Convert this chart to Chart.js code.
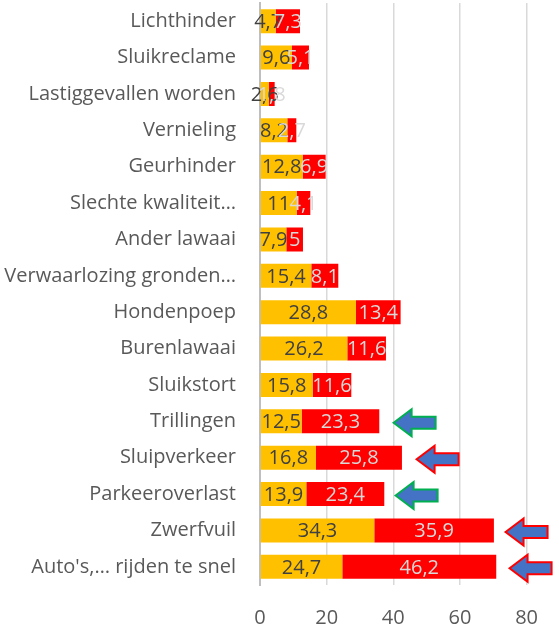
<!DOCTYPE html>
<html>
<head>
<meta charset="utf-8">
<script src="https://cdn.jsdelivr.net/npm/chart.js@4/dist/chart.umd.min.js"></script>
<style>
  html, body { margin: 0; padding: 0; background: #fff; }
  canvas { display: block; }
</style>
</head>
<body>
<canvas id="hinder" width="559" height="628"></canvas>
<script>
// Categories (top to bottom)
const categories = [
	"Lichthinder",
	"Sluikreclame",
	"Lastiggevallen worden",
	"Vernieling",
	"Geurhinder",
	"Slechte kwaliteit…",
	"Ander lawaai",
	"Verwaarlozing gronden…",
	"Hondenpoep",
	"Burenlawaai",
	"Sluikstort",
	"Trillingen",
	"Sluipverkeer",
	"Parkeeroverlast",
	"Zwerfvuil",
	"Auto's,… rijden te snel",
];

// Orange series
const orangeValues = [4.7, 9.6, 2.6, 8.2, 12.8, 11, 7.9, 15.4, 28.8, 26.2, 15.8, 12.5, 16.8, 13.9, 34.3, 24.7];
// Red series
const redValues = [7.3, 5.1, 1.8, 2.7, 6.9, 4.1, 5, 8.1, 13.4, 11.6, 11.6, 23.3, 25.8, 23.4, 35.9, 46.2];

// x axis ticks
const xMin = 0;
const xMax = 80;
const xStep = 20;

// Arrows pointing at some of the bars (tip position in axis units)
const arrowCats = ["Trillingen", "Sluipverkeer", "Parkeeroverlast", "Zwerfvuil", "Auto's,… rijden te snel"];
const arrowTips = [40.1, 47, 40.7, 73.7, 74.9];
const arrowOutlines = ["#00B050", "#FF0000", "#00B050", "#FF0000", "#FF0000"];

const fontFamily = "'Open Sans', Lato, sans-serif";

const fmt = v => String(v).replace(".", ",");

// Draws the value in the middle of each segment
const valueLabels = {
	id: "valueLabels",
	afterDatasetsDraw(chart) {
		const ctx = chart.ctx;
		ctx.save();
		ctx.font = `20px ${fontFamily}`;
		ctx.textAlign = "center";
		ctx.textBaseline = "middle";
		chart.data.datasets.forEach((ds, di) => {
			const meta = chart.getDatasetMeta(di);
			ctx.fillStyle = di === 0 ? "#404040" : "#D9D9D9";
			meta.data.forEach((bar, i) => {
				const cx = (bar.x + bar.base) / 2;
				ctx.fillText(fmt(ds.data[i]), cx, bar.y + 1);
			});
		});
		ctx.restore();
	},
};

// Blue block arrows
const arrows = {
	id: "arrows",
	afterDraw(chart) {
		const ctx = chart.ctx;
		const xs = chart.scales.x;
		const ys = chart.scales.y;
		ctx.save();
		arrowCats.forEach((cat, i) => {
			const tx = xs.getPixelForValue(arrowTips[i]);
			const ty = ys.getPixelForValue(categories.indexOf(cat)) + 1.5;
			const len = 42;
			const headLen = 18;
			const headH = 13.5;
			const shaftH = 6;
			ctx.beginPath();
			ctx.moveTo(tx, ty);
			ctx.lineTo(tx + headLen, ty - headH);
			ctx.lineTo(tx + headLen, ty - shaftH);
			ctx.lineTo(tx + len, ty - shaftH);
			ctx.lineTo(tx + len, ty + shaftH);
			ctx.lineTo(tx + headLen, ty + shaftH);
			ctx.lineTo(tx + headLen, ty + headH);
			ctx.closePath();
			ctx.fillStyle = "#4472C4";
			ctx.fill();
			ctx.lineWidth = 2;
			ctx.strokeStyle = arrowOutlines[i];
			ctx.stroke();
		});
		ctx.restore();
	},
};

new Chart(document.getElementById("hinder"), {
	type: "bar",
	data: {
		labels: categories,
		datasets: [
			{
				label: "oranje",
				data: orangeValues,
				backgroundColor: "#FFC000",
				barPercentage: 0.66,
				categoryPercentage: 1,
			},
			{
				label: "rood",
				data: redValues,
				backgroundColor: "#FF0000",
				barPercentage: 0.66,
				categoryPercentage: 1,
			},
		],
	},
	options: {
		indexAxis: "y",
		responsive: false,
		animation: false,
		layout: {
			padding: { top: 3, right: 30, bottom: 0, left: 0 },
		},
		plugins: {
			legend: { display: false },
			tooltip: { enabled: false },
		},
		scales: {
			x: {
				stacked: true,
				min: xMin,
				max: xMax,
				ticks: {
					stepSize: xStep,
					color: "#595959",
					font: { family: fontFamily, size: 20 },
					padding: 21,
				},
				grid: {
					color: "#D9D9D9",
					lineWidth: 1.5,
					drawTicks: false,
				},
				border: { display: false },
				afterFit: scale => {
					scale.height = 43;
				},
			},
			y: {
				stacked: true,
				ticks: {
					color: "#595959",
					font: { family: fontFamily, size: 20, lineHeight: 0.3 },
					padding: 0,
				},
				// tick marks not drawn, only used to push the labels away from the axis
				grid: { display: false, drawTicks: true, tickLength: 24 },
				border: { color: "#BFBFBF", width: 2 },
				afterFit: scale => {
					scale.width = 260;
				},
			},
		},
	},
	plugins: [valueLabels, arrows],
});
</script>
</body>
</html>
